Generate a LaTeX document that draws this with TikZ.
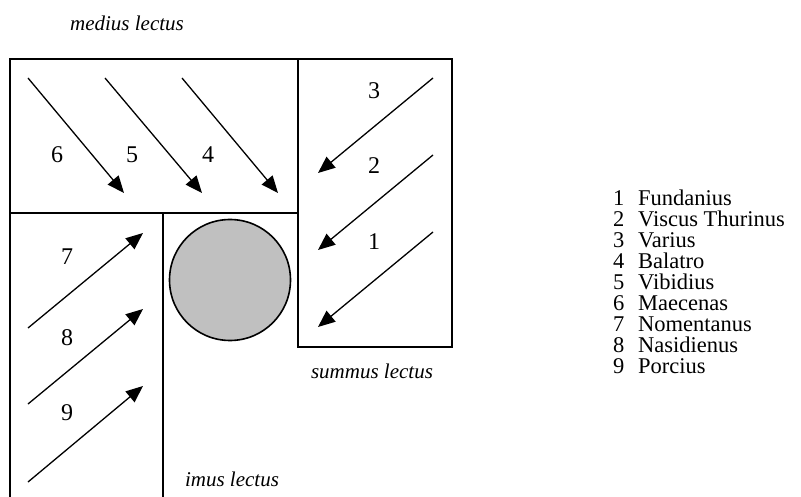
\documentclass[tikz,border=0pt]{standalone}
\usepackage{fontspec}
\setmainfont{Liberation Serif}
\usetikzlibrary{arrows.meta}
\tikzset{
  wall/.style={line width=1.8pt, line cap=rect},
  guest/.style={line width=1.3pt, -{Triangle[length=17pt,width=14pt]}},
  seatno/.style={anchor=base, inner sep=0pt, font=\fontsize{24}{24}\selectfont},
  couch/.style={anchor=base, inner sep=0pt, font=\fontsize{21}{21}\selectfont\itshape},
  legnum/.style={anchor=base west, inner sep=0pt, text height=15pt, text depth=4pt, font=\fontsize{22.5}{21}\selectfont},
}
\begin{document}
\begin{tikzpicture}[x=1pt,y=-1pt]
\useasboundingbox (0,0) rectangle (801,497);
% couches
\draw[wall] (10,59) rectangle (298,213);
\draw[wall] (298,59) rectangle (452,347);
\draw[wall] (10,213) -- (10,497);
\draw[wall] (163,213) -- (163,497);
% table
\node[circle, draw, line width=1.6pt, fill={rgb,255:red,192;green,192;blue,192}, minimum size=121pt, inner sep=0pt] (mensa) at (230,280) {};
% couch labels
\node[couch] (medius) at (127,31) {medius lectus};
\node[couch] (summus) at (372,378) {summus lectus};
\node[couch] (imus) at (232,486) {imus lectus};
% arrow coordinates
\coordinate (s6) at (28,78);  \coordinate (e6) at (124,193);
\coordinate (s5) at (105,78); \coordinate (e5) at (202,193);
\coordinate (s4) at (182,78); \coordinate (e4) at (278,193);
\coordinate (s3) at (433,78);  \coordinate (e3) at (318,173);
\coordinate (s2) at (433,155); \coordinate (e2) at (318,250);
\coordinate (s1) at (433,232); \coordinate (e1) at (318,327);
\coordinate (s7) at (28,328); \coordinate (e7) at (143,233);
\coordinate (s8) at (28,404); \coordinate (e8) at (143,309);
\coordinate (s9) at (28,482); \coordinate (e9) at (143,386);
\foreach \i in {1,...,9} { \draw[guest] (s\i) -- (e\i); }
% seat numbers
\node[seatno] (n6) at (57,163) {6};
\node[seatno] (n5) at (132,163) {5};
\node[seatno] (n4) at (208,163) {4};
\node[seatno] (n3) at (374,99) {3};
\node[seatno] (n2) at (374,174) {2};
\node[seatno] (n1) at (374,250) {1};
\node[seatno] (n7) at (67,265) {7};
\node[seatno] (n8) at (67,345) {8};
\node[seatno] (n9) at (67,420) {9};
% legend
\foreach \k/\name in {1/Fundanius,2/Viscus Thurinus,3/Varius,4/Balatro,5/Vibidius,6/Maecenas,7/Nomentanus,8/Nasidienus,9/Porcius} {
  \node[legnum] (ln\k) at (613,{206+20.9*(\k-1)}) {\k};
  \node[legnum] (lt\k) at (638,{206+20.9*(\k-1)}) {\name};
}
\end{tikzpicture}
\end{document}
